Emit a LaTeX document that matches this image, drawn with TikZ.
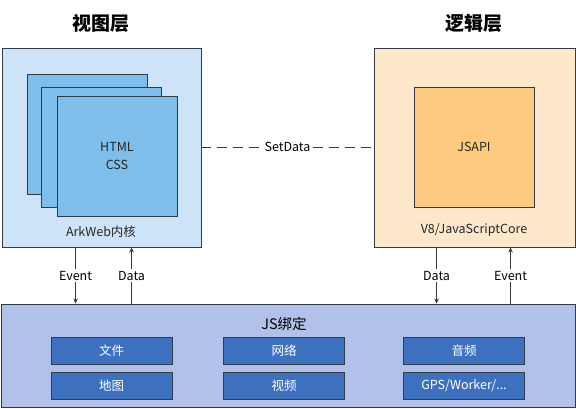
\documentclass[tikz,border=0pt]{standalone}
\usepackage{fontspec}
\setmainfont{Noto Sans CJK SC}
\usepackage{tikz}
\usetikzlibrary{arrows.meta}

\definecolor{viewbg}{HTML}{CDE3F7}
\definecolor{pagebg}{HTML}{7FBDEB}
\definecolor{logicbg}{HTML}{FFE7CC}
\definecolor{apibg}{HTML}{FDCA7F}
\definecolor{bindbg}{HTML}{B1C1E9}
\definecolor{modbg}{HTML}{3D71BF}
\definecolor{edge}{HTML}{333A44}

\tikzset{
    layer/.style={draw=edge, line width=0.9pt, inner sep=0pt},
    pagebox/.style={layer, fill=pagebg, minimum width=120pt, minimum height=120pt},
    modbox/.style={layer, fill=modbg, text=white, minimum width=121pt, minimum height=27pt, font=\fontsize{12.5}{14}\selectfont},
    caption/.style={font=\fontsize{12.5}{14}\selectfont, text=black!85},
    title/.style={font=\fontsize{19}{22}\selectfont\bfseries},
    arr/.style={draw=edge, line width=0.8pt, -{Stealth[length=5pt,width=4.5pt]}},
    tag/.style={fill=white, inner sep=2pt, font=\fontsize{12.5}{14}\selectfont}
}

\begin{document}
\begin{tikzpicture}[x=1pt,y=-1pt]
    \useasboundingbox (0,0) rectangle (576,409);

    \node[title] (viewT) at (101,23) {视图层};
    \node[title] (logicT) at (474,23) {逻辑层};

    % view layer
    \node[layer, fill=viewbg, minimum width=199pt, minimum height=199pt] (view) at (101.5,147.5) {};
    \node[pagebox] (page1) at (87,134) {};
    \node[pagebox] (page2) at (101.5,147) {};
    \node[pagebox, align=center, caption] (page3) at (117,156) {HTML\\[3.5pt]CSS};
    \node[caption] (ark) at (101,232) {ArkWeb内核};

    % logic layer
    \node[layer, fill=logicbg, minimum width=201pt, minimum height=199pt] (logic) at (474.5,147.5) {};
    \node[layer, fill=apibg, minimum width=120pt, minimum height=120pt, caption] (api) at (474,147) {JSAPI};
    \node[caption] (v8) at (474,230) {V8/JavaScriptCore};

    \draw[draw=edge, line width=0.8pt, dash pattern=on 10pt off 6pt] (view.east |- api) -- (logic.west |- api)
        node[midway, tag] {SetData};

    % binding layer
    \node[layer, fill=bindbg, minimum width=574pt, minimum height=103pt] (bind) at (288,355.5) {};
    \node[font=\fontsize{14.5}{16}\selectfont] (bindT) at (284,324) {JS绑定};

    \node[modbox] (file) at (111.5,350.5) {文件};
    \node[modbox] (net) at (284,350.5) {网络};
    \node[modbox] (audio) at (464,350.5) {音频};
    \node[modbox] (map) at (111.5,385.5) {地图};
    \node[modbox] (video) at (284,385.5) {视频};
    \node[modbox] (misc) at (464,385.5) {GPS/Worker/...};

    % arrows
    \draw[arr] ([xshift=74pt]view.south west) -- ([xshift=74pt]view.south west |- bind.north)
        node[midway, tag] {Event};
    \draw[arr] ([xshift=130pt]view.south west |- bind.north) -- ([xshift=130pt]view.south west)
        node[midway, tag] {Data};
    \draw[arr] ([xshift=63pt]logic.south west) -- ([xshift=63pt]logic.south west |- bind.north)
        node[midway, tag] {Data};
    \draw[arr] ([xshift=137pt]logic.south west |- bind.north) -- ([xshift=137pt]logic.south west)
        node[midway, tag] {Event};
\end{tikzpicture}
\end{document}
